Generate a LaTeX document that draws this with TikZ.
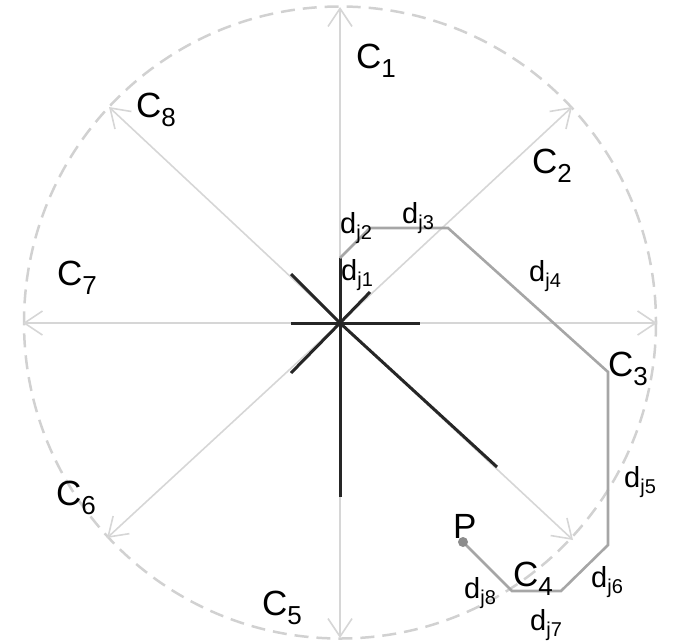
\documentclass[tikz,border=0pt]{standalone}
\usepackage{fontspec}
\setmainfont{Liberation Sans}
\usetikzlibrary{arrows.meta}
\newcommand\Clab[1]{C\raisebox{-9pt}{\fontsize{26}{26}\selectfont #1}}
\newcommand\Dlab[1]{d\raisebox{-6pt}{\fontsize{20}{20}\selectfont j#1}}
\begin{document}
\begin{tikzpicture}[x=1pt,y=-1pt,
  ring/.style={draw=black!18,line width=2.5pt,dash pattern=on 14pt off 8pt},
  axisline/.style={draw=black!16,line width=1.6pt,-{Straight Barb[length=18pt,width=24pt,line width=1.6pt]}},
  starline/.style={draw=black!85,line width=3pt},
  pathline/.style={draw=black!35,line width=2.6pt,line join=miter},
  clabel/.style={inner sep=0pt,anchor=base west,font=\fontsize{35}{35}\selectfont},
  dlabel/.style={inner sep=0pt,anchor=base west,font=\fontsize{29}{29}\selectfont}]
\useasboundingbox (0,0) rectangle (679,643);
\coordinate (O) at (340,323);
\coordinate (T1) at (340,7);
\coordinate (T2) at (572,107);
\coordinate (T3) at (657,323);
\coordinate (T4) at (573,540);
\coordinate (T5) at (340,638);
\coordinate (T6) at (107,538);
\coordinate (T7) at (23,323);
\coordinate (T8) at (109,107);
% dashed circle
\draw[ring] (340,322.5) circle[radius=316];
% axes
\foreach \t in {T1,T2,T3,T4,T5,T6,T7,T8}
  \draw[axisline] (O) -- (\t);
% star
\coordinate (S1) at (340,258);
\coordinate (S2) at (370,292);
\coordinate (S3) at (420,323);
\coordinate (S4) at (497,467);
\coordinate (S5) at (340,497);
\coordinate (S6) at (291,373);
\coordinate (S7) at (291,323);
\coordinate (S8) at (291,274);
\foreach \s in {S1,S2,S3,S4,S5,S6,S7,S8}
  \draw[starline] (O) -- (\s);
% path
\coordinate (Q1) at (370,228);
\coordinate (Q2) at (448,228);
\coordinate (Q3) at (608,372);
\coordinate (Q4) at (608,545);
\coordinate (Q5) at (561,591);
\coordinate (Q6) at (512,591);
\coordinate (Pt) at (463,542);
\draw[pathline] (S1) -- (Q1) -- (Q2) -- (Q3) -- (Q4) -- (Q5) -- (Q6) -- (Pt);
\fill[black!45] (Pt) circle[radius=5];
% labels
\node[clabel] (c1) at (356,68) {\Clab{1}};
\node[clabel] (c2) at (532,173) {\Clab{2}};
\node[clabel] (c3) at (608,376) {\Clab{3}};
\node[clabel] (c4) at (513,586) {\Clab{4}};
\node[clabel] (c5) at (262,615) {\Clab{5}};
\node[clabel] (c6) at (56,505) {\Clab{6}};
\node[clabel] (c7) at (57,285) {\Clab{7}};
\node[clabel] (c8) at (136,117) {\Clab{8}};
\node[clabel] (p) at (453,538) {P};
\node[dlabel] (d1) at (341,280) {\Dlab{1}};
\node[dlabel] (d2) at (340,233) {\Dlab{2}};
\node[dlabel] (d3) at (402,223) {\Dlab{3}};
\node[dlabel] (d4) at (529,281) {\Dlab{4}};
\node[dlabel] (d5) at (624,487) {\Dlab{5}};
\node[dlabel] (d6) at (591,587) {\Dlab{6}};
\node[dlabel] (d7) at (530,630) {\Dlab{7}};
\node[dlabel] (d8) at (464,598) {\Dlab{8}};
\end{tikzpicture}
\end{document}
